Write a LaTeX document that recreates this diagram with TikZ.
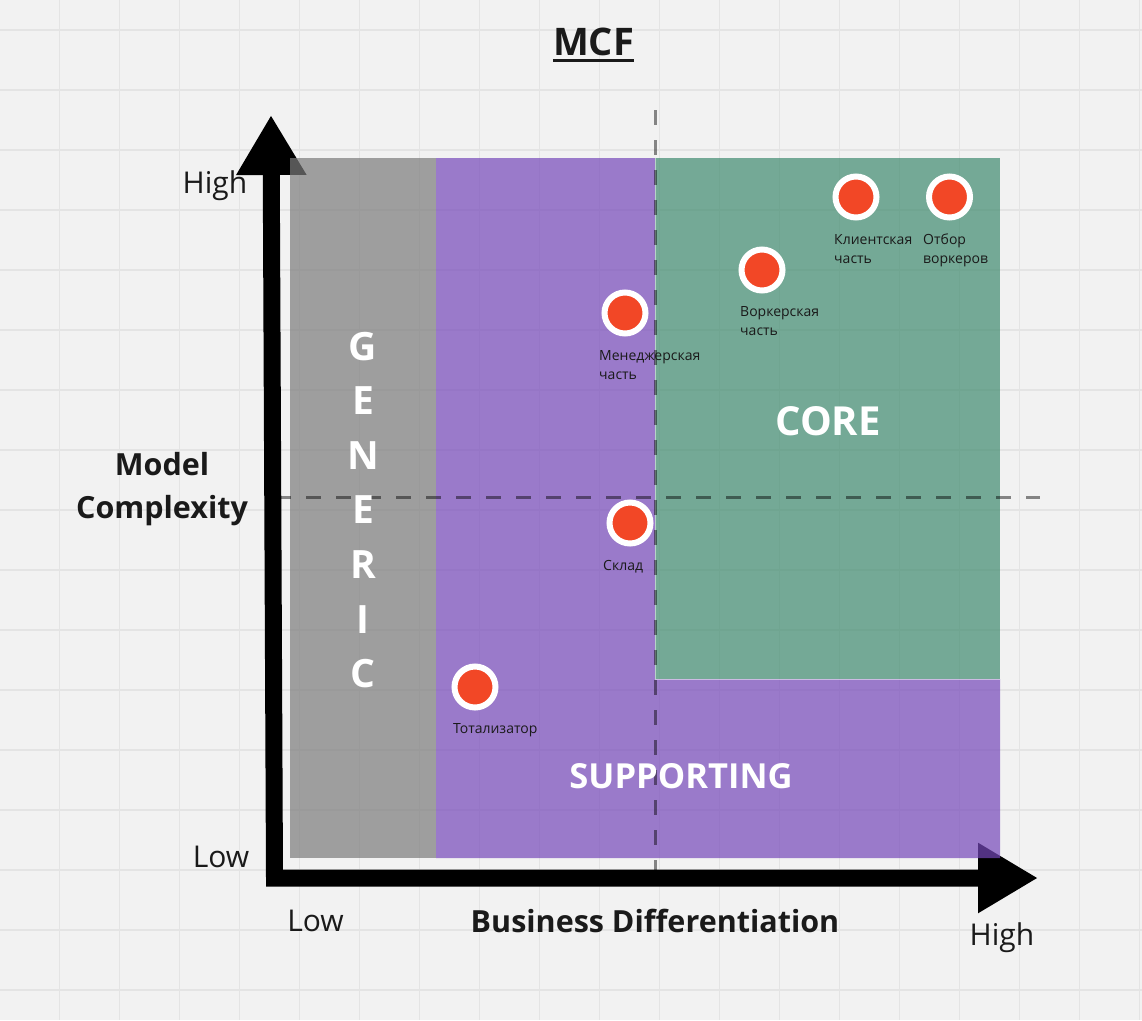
\documentclass[tikz,border=0pt]{standalone}
\usepackage{fontspec}
\setmainfont{Open Sans}
\usetikzlibrary{arrows.meta}
\definecolor{bg}{RGB}{242,242,242}
\definecolor{gridc}{RGB}{228,228,228}
\definecolor{genc}{RGB}{123,123,123}
\definecolor{supc}{RGB}{118,72,186}
\definecolor{corec}{RGB}{63,139,111}
\definecolor{dotred}{RGB}{242,71,38}
\definecolor{txt}{RGB}{26,26,26}
\tikzset{
  gridline/.style={draw=gridc, line width=1.5pt},
  axis/.style={line width=17pt, line join=miter, {Triangle[length=60pt,width=66pt]}-{Triangle[length=60pt,width=66pt]}},
  zone/.style={fill opacity=0.7},
  divider/.style={draw=black, draw opacity=0.45, line width=3pt, dash pattern=on 15pt off 15pt},
  dot/.style={circle, fill=dotred, draw=white, line width=6pt, minimum size=41pt, inner sep=0pt},
  dotlabel/.style={anchor=base west, align=left, inner sep=0pt, text=txt, font=\fontsize{14}{19}\selectfont},
  axlabel/.style={anchor=base, inner sep=0pt, text=txt, font=\fontsize{30}{34}\selectfont},
  axtitle/.style={anchor=base, inner sep=0pt, text=txt, font=\bfseries\fontsize{30.5}{43}\selectfont},
  zonelabel/.style={anchor=base, inner sep=0pt, text=white, font=\bfseries\fontsize{39}{44}\selectfont},
}
\begin{document}
\begin{tikzpicture}[x=1pt,y=-1pt]
\useasboundingbox (0,0) rectangle (1142,1020);
\fill[bg] (0,0) rectangle (1142,1020);
\foreach \i in {0,...,18} \draw[gridline] ({59.5+60*\i},0) -- ++(0,1020);
\foreach \i in {0,...,16} \draw[gridline] (0,{30+60*\i}) -- ++(1142,0);

% axes
\coordinate (ytip) at (271,115);
\coordinate (origin) at (274.5,878);
\coordinate (xtip) at (1038,878);
\draw[axis] (ytip) -- (origin) -- (xtip);

% zones
\fill[genc, zone] (290,158) rectangle (436,858);
\fill[supc, zone] (436,158) -- (655,158) -- (655,679) -- (1000,679) -- (1000,858) -- (436,858) -- cycle;
\fill[corec, zone] (655,158) rectangle (1000,679);
\draw[white, opacity=0.5, line width=1pt] (655,158) -- (655,679) -- (1000,679);

% dividers
\coordinate (vtop) at (655,110);
\coordinate (vbot) at (655,875);
\coordinate (hl) at (276,497);
\coordinate (hr) at (1040,497);
\draw[divider] (vtop) -- (vbot);
\draw[divider] (hl) -- (hr);

% title
\node[anchor=base, inner sep=0pt, text=txt, font=\bfseries\fontsize{38}{42}\selectfont] (title) at (593.5,55) {MCF};
\draw[txt, line width=2.5pt] ([yshift=-5.5pt]title.base west) -- ([yshift=-5.5pt]title.base east);

% axis labels
\node[axlabel] (yhigh) at (215,193) {High};
\node[axlabel] (ylow) at (221,867) {Low};
\node[axlabel] (xlow) at (315.5,931.5) {Low};
\node[axlabel] (xhigh) at (1002,945) {High};
\node[axtitle] (xtitle) at (655,932) {Business Differentiation};
\node[axtitle, align=center] (ytitle) at (162,518) {Model\\Complexity};

% zone labels
\foreach \l [count=\k from 0] in {G,E,N,E,R,I,C}
  \node[zonelabel] (gen\k) at (363,{360+54.6*\k}) {\l};
\node[zonelabel, font=\bfseries\fontsize{40}{44}\selectfont] (core) at (828,435) {CORE};
\node[zonelabel, font=\bfseries\fontsize{34.5}{40}\selectfont] (supp) at (681,788) {SUPPORTING};

% dots
\node[dot] (klient) at (856,197) {};
\node[dot] (otbor) at (949.5,197) {};
\node[dot] (worker) at (762,270) {};
\node[dot] (manager) at (625,313) {};
\node[dot] (sklad) at (630,523) {};
\node[dot] (total) at (475,687) {};

\node[dotlabel] (lklient) at (834,263) {Клиентская\\часть};
\node[dotlabel] (lotbor) at (923,263) {Отбор\\воркеров};
\node[dotlabel] (lworker) at (740,335.5) {Воркерская\\часть};
\node[dotlabel] (lmanager) at (599,379.5) {Менеджерская\\часть};
\node[dotlabel] (lsklad) at (603,570) {Склад};
\node[dotlabel] (ltotal) at (453,733) {Тотализатор};
\end{tikzpicture}
\end{document}
